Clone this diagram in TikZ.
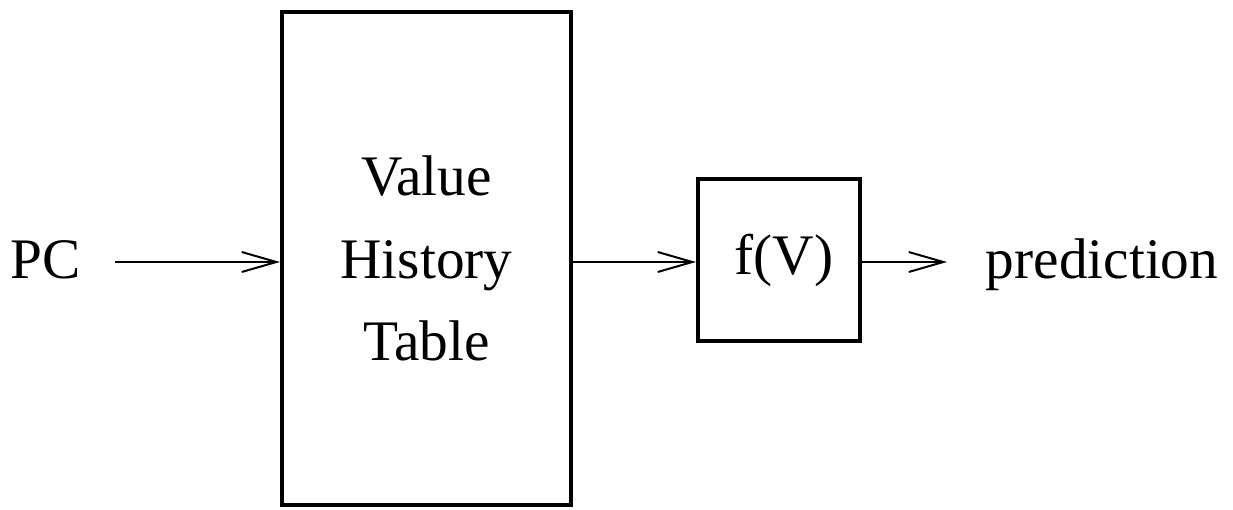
\documentclass[tikz,border=0pt]{standalone}
\usepackage{fontspec}
\setmainfont{Liberation Serif}
\usetikzlibrary{arrows.meta}
\begin{document}
\begin{tikzpicture}[x=0.75pt,y=-0.75pt,
  blk/.style={draw,line width=3pt,inner sep=0pt,font=\fontsize{43}{62}\selectfont,align=center},
  lbl/.style={inner sep=0pt,anchor=base,font=\fontsize{43}{62}\selectfont},
  flow/.style={line width=1.5pt,-{Straight Barb[length=26pt,width=15pt,line width=1.5pt]}}]
\useasboundingbox (0,0) rectangle (1233,510);
\node[blk,minimum width=289*0.75pt,minimum height=493*0.75pt] (vht) at (426.5,258.5)
  {Value\\History\\Table};
\node[blk,minimum width=162*0.75pt,minimum height=162*0.75pt] (f) at (779,260) {\,f(V)};
\node[lbl] (pc) at (46,278) {PC};
\node[lbl] (pred) at (1102,278) {prediction};
\coordinate (pcend) at (115,262);
\coordinate (predend) at (947,262);
\draw[flow] (pcend) -- (vht.west |- pcend);
\draw[flow] (vht.east |- pcend) -- (f.west |- pcend);
\draw[flow] (f.east |- pcend) -- (predend);
\end{tikzpicture}
\end{document}
